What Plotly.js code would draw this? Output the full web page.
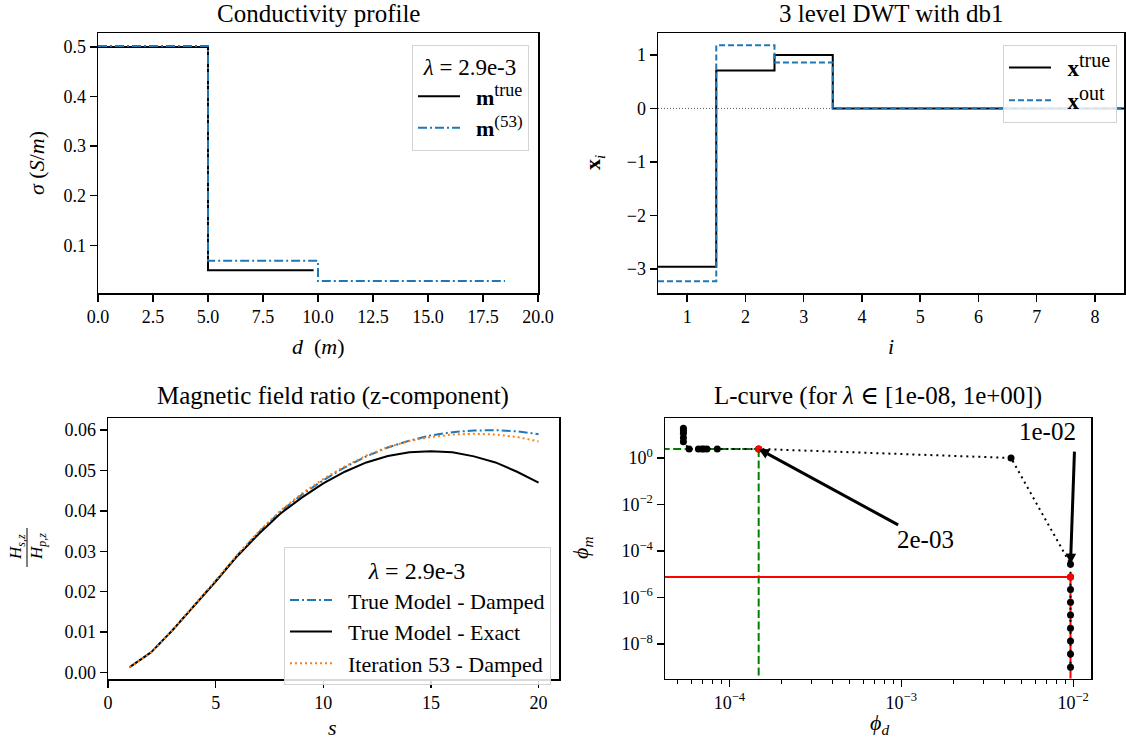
<!DOCTYPE html>
<html>
<head>
<meta charset="utf-8">
<script src="https://cdn.plot.ly/plotly-3.0.1.min.js"></script>
<style>
  html, body { margin: 0; padding: 0; background: #fff; }
  #chart { width: 1126px; height: 740px; }
</style>
</head>
<body>
<div id="chart"></div>
<script>
// ---- Conductivity profile (depth in m, sigma in S/m), drawn as steps ----
const depthTrue = [0, 5, 9.8];
const sigmaTrue = [0.5, 0.05, 0.05];
const depth53 = [0, 5, 10, 18.5];
const sigma53 = [0.502, 0.069, 0.028, 0.028];

// ---- 3 level DWT with db1 (coefficient index and values) ----
const coefIndex = [1, 2, 3, 4, 5, 6, 7, 8];
const xTrue = [-2.96, 0.71, 1.0, 0, 0, 0, 0, 0];
const xOut = [-3.23, 1.18, 0.86, 0.005, 0.005, 0.005, 0.005, 0.005];

// ---- Magnetic field ratio (z-component) vs s ----
const sVals = [1, 2, 3, 4, 5, 6, 7, 8, 9, 10, 11, 12, 13, 14, 15, 16, 17, 18, 19, 20];
const trueDamped = [0.0013, 0.0050, 0.0105, 0.0165, 0.0227, 0.0290, 0.0347, 0.0398, 0.0440, 0.0476,
                    0.0508, 0.0535, 0.0557, 0.0574, 0.0587, 0.0595, 0.0599, 0.0600, 0.0597, 0.0590];
const trueExact = [0.0013, 0.0050, 0.0105, 0.0165, 0.0225, 0.0288, 0.0343, 0.0393, 0.0433, 0.0468,
                   0.0497, 0.0520, 0.0536, 0.0545, 0.0548, 0.0545, 0.0535, 0.0520, 0.0497, 0.0470];
const iter53Damped = [0.0013, 0.0050, 0.0105, 0.0166, 0.0228, 0.0291, 0.0349, 0.0400, 0.0443, 0.0479,
                      0.0510, 0.0537, 0.0558, 0.0573, 0.0583, 0.0589, 0.0591, 0.0589, 0.0583, 0.0572];

// ---- L-curve points (phi_d, phi_m), ordered by lambda ----
const phiD = [5.4e-5, 5.4e-5, 5.4e-5, 5.4e-5, 5.4e-5, 5.83e-5, 6.6e-5, 6.9e-5, 7.1e-5, 7.4e-5, 8.5e-5,
              1.48e-4, 4.35e-3, 9.65e-3, 9.65e-3, 9.65e-3, 9.65e-3, 9.65e-3, 9.65e-3, 9.65e-3, 9.65e-3, 9.65e-3];
const phiM = [19, 15, 11.5, 7.5, 5.0, 2.45, 2.45, 2.45, 2.45, 2.45, 2.45,
              2.45, 1.0, 2.7e-5, 7.5e-6, 2.2e-6, 6.2e-7, 1.74e-7, 4.7e-8, 1.32e-8, 3.7e-9, 9.8e-10];
// highlighted points: green guides and red guides
const selGreen = {d: 1.48e-4, m: 2.45, label: '2e-03'};
const selRed = {d: 9.65e-3, m: 7.5e-6};
const arrowPoint = {d: 9.65e-3, m: 2.7e-5, label: '1e-02'};
const logTicks = [1e-8, 1e-6, 1e-4, 1e-2, 1];
const logTickText = ['10<sup>−8</sup>', '10<sup>−6</sup>', '10<sup>−4</sup>', '10<sup>−2</sup>', '10<sup>0</sup>'];
const dTicks = [1e-4, 1e-3, 1e-2];
const dTickText = ['10<sup>−4</sup>', '10<sup>−3</sup>', '10<sup>−2</sup>'];

const F = '"Liberation Serif", "DejaVu Serif", serif';
const W = 1126, H = 740;
const BLUE = '#1f77b4', ORANGE = '#ff7f0e', GREEN = '#008000', RED = '#ff0000';
const px = v => v / W;
const py = v => 1 - v / H;
const GAP = '&nbsp;&nbsp;';  // space between legend symbol and label
// bold symbol with a roomy superscript, as used in the legends
const supLabel = (sym, sup, size) => GAP + '<b>' + sym + '</b><sup><span style="font-size:' + size + 'px">' + sup + '</span></sup>';

// step edges for the coefficient plot
const coefEdges = coefIndex.map(i => i - 0.5).concat([coefIndex[coefIndex.length - 1] + 0.5]);
const withLast = a => a.concat([a[a.length - 1]]);

function axis(extra) {
  return Object.assign({
    showline: true, mirror: true, linecolor: 'black', linewidth: 1.5,
    ticks: 'outside', ticklen: 7, tickwidth: 1.3, tickcolor: 'black',
    showgrid: false, zeroline: false,
    tickfont: {family: F, size: 18, color: 'black'}
  }, extra);
}

const traces = [
  // conductivity profile
  {x: depthTrue, y: sigmaTrue, xaxis: 'x', yaxis: 'y', mode: 'lines', line: {shape: 'hv', color: 'black', width: 2},
   name: supLabel('m', 'true', 18), legend: 'legend'},
  {x: depth53, y: sigma53, xaxis: 'x', yaxis: 'y', mode: 'lines', line: {shape: 'hv', color: BLUE, width: 2, dash: '9px,3px,2px,3px'},
   name: supLabel('m', '(53)', 17), legend: 'legend'},
  // DWT coefficients
  {x: coefEdges, y: withLast(xTrue), xaxis: 'x2', yaxis: 'y2', mode: 'lines', line: {shape: 'hv', color: 'black', width: 2},
   name: supLabel('x', 'true', 20), legend: 'legend2'},
  {x: coefEdges, y: withLast(xOut), xaxis: 'x2', yaxis: 'y2', mode: 'lines', line: {shape: 'hv', color: BLUE, width: 2, dash: '6px,3px'},
   name: supLabel('x', 'out', 20), legend: 'legend2'},
  // field ratio
  {x: sVals, y: trueDamped, xaxis: 'x3', yaxis: 'y3', mode: 'lines', line: {color: BLUE, width: 2, dash: '9px,3px,2px,3px'},
   name: GAP + 'True Model - Damped', legend: 'legend3'},
  {x: sVals, y: trueExact, xaxis: 'x3', yaxis: 'y3', mode: 'lines', line: {color: 'black', width: 2},
   name: GAP + 'True Model - Exact', legend: 'legend3'},
  {x: sVals, y: iter53Damped, xaxis: 'x3', yaxis: 'y3', mode: 'lines', line: {color: ORANGE, width: 2, dash: '2px,3px'},
   name: GAP + 'Iteration 53 - Damped', legend: 'legend3'},
  // L-curve guide lines (extend past the axes and get clipped)
  {x: [1e-6, selGreen.d], y: [selGreen.m, selGreen.m], xaxis: 'x4', yaxis: 'y4', mode: 'lines',
   line: {color: GREEN, width: 2, dash: '8px,3.5px'}, showlegend: false},
  {x: [selGreen.d, selGreen.d], y: [selGreen.m, 1e-12], xaxis: 'x4', yaxis: 'y4', mode: 'lines',
   line: {color: GREEN, width: 2, dash: '8px,3.5px'}, showlegend: false},
  {x: [1e-6, selRed.d], y: [selRed.m, selRed.m], xaxis: 'x4', yaxis: 'y4', mode: 'lines',
   line: {color: RED, width: 2}, showlegend: false},
  {x: [selRed.d, selRed.d], y: [selRed.m, 1e-12], xaxis: 'x4', yaxis: 'y4', mode: 'lines',
   line: {color: RED, width: 2}, showlegend: false},
  // L-curve
  {x: phiD, y: phiM, xaxis: 'x4', yaxis: 'y4', mode: 'lines+markers',
   line: {color: 'black', width: 2, dash: '2px,4px'}, marker: {color: 'black', size: 7}, showlegend: false},
  {x: [selGreen.d, selRed.d], y: [selGreen.m, selRed.m], xaxis: 'x4', yaxis: 'y4', mode: 'markers',
   marker: {color: RED, size: 7}, showlegend: false}
];

function ann(text, x, y, size, extra) {
  return Object.assign({text: text, x: px(x), y: py(y), xref: 'paper', yref: 'paper',
    showarrow: false, xanchor: 'center', yanchor: 'middle', font: {family: F, size: size, color: 'black'}}, extra || {});
}

const annotations = [
  // subplot titles
  ann('Conductivity profile', 318, 13, 25),
  ann('3 level DWT with db1', 891, 13, 25),
  ann('Magnetic field ratio (z-component)', 333, 396, 25),
  ann('L-curve (for <i>λ</i> ∈ [1e-08, 1e+00])', 878, 396, 25),
  // axis labels
  ann('<i>d</i>&nbsp;&nbsp;(<i>m</i>)', 318, 346, 22),
  ann('<i>σ</i> (<i>S</i>/<i>m</i>)', 37, 163, 22, {textangle: -90}),
  ann('<i>i</i>', 891, 346, 22),
  ann('<b>x</b><sub><i>i</i></sub>', 594, 163, 22, {textangle: -90}),
  ann('<i>s</i>', 333, 727, 22),
  ann('<i>H</i><sub><i>s,z</i></sub>', 17, 547, 17, {textangle: -90}),
  ann('<i>H</i><sub><i>p,z</i></sub>', 38, 547, 17, {textangle: -90}),
  ann('<i>ϕ</i><sub><i>d</i></sub>', 879, 724, 22),
  ann('<i>ϕ</i><sub><i>m</i></sub>', 582, 548, 22, {textangle: -90}),
  // L-curve labels
  {text: selGreen.label, x: Math.log10(selGreen.d), y: Math.log10(selGreen.m), xref: 'x4', yref: 'y4',
   showarrow: true, ax: 167, ay: 91, arrowcolor: 'black', arrowwidth: 3, arrowhead: 2, arrowsize: 0.7,
   font: {family: F, size: 25, color: 'black'}},
  ann(arrowPoint.label, 1047, 431, 25),
  {text: '', x: Math.log10(arrowPoint.d), y: Math.log10(arrowPoint.m), xref: 'x4', yref: 'y4',
   showarrow: true, ax: 4, ay: -114, arrowcolor: 'black', arrowwidth: 3, arrowhead: 2, arrowsize: 0.7}
];

const shapes = [
  // fraction bar of the field-ratio label
  {type: 'line', xref: 'paper', yref: 'paper', x0: px(27), x1: px(27), y0: py(528), y1: py(567),
   line: {color: 'black', width: 1}},
  // zero reference in the coefficient plot
  {type: 'line', xref: 'x2 domain', yref: 'y2', x0: 0, x1: 1, y0: 0, y1: 0,
   line: {color: '#555', width: 1, dash: '1px,2px'}, layer: 'below'}
];

const legendBase = {
  bgcolor: 'rgba(255,255,255,0.85)', bordercolor: '#d4d4d4', borderwidth: 1,
  xanchor: 'right', yanchor: 'top', font: {family: F, size: 23, color: 'black'},
  tracegroupgap: 0, itemwidth: 42
};

const minorD = [];
[1e-5, 1e-4, 1e-3].forEach(dec => { for (let k = 2; k <= 9; k++) minorD.push(k * dec); });

const layout = {
  width: W, height: H,
  margin: {l: 0, r: 0, t: 0, b: 0},
  paper_bgcolor: 'white', plot_bgcolor: 'white',
  font: {family: F, color: 'black'},
  showlegend: true,
  xaxis: axis({domain: [px(98), px(538)], range: [0, 20], tickvals: [0, 2.5, 5, 7.5, 10, 12.5, 15, 17.5, 20],
               tickformat: '.1f', anchor: 'y'}),
  yaxis: axis({domain: [py(293), py(33)], range: [0.004, 0.528], tickvals: [0.1, 0.2, 0.3, 0.4, 0.5],
               tickformat: '.1f', anchor: 'x'}),
  xaxis2: axis({domain: [px(658), px(1124)], range: [0.5, 8.5], tickvals: coefIndex, anchor: 'y2'}),
  yaxis2: axis({domain: [py(293), py(33)], range: [-3.45, 1.41], tickvals: [-3, -2, -1, 0, 1], anchor: 'x2'}),
  xaxis3: axis({domain: [px(108), px(559)], range: [-0.001, 20.95], tickvals: [0, 5, 10, 15, 20], anchor: 'y3'}),
  yaxis3: axis({domain: [py(679), py(418)], range: [-0.0016, 0.063], tickvals: [0, 0.01, 0.02, 0.03, 0.04, 0.05, 0.06],
                tickformat: '.2f', anchor: 'x3'}),
  xaxis4: axis({domain: [px(665), px(1091)], type: 'log', range: [-4.3747, -1.8962], tickvals: dTicks, ticktext: dTickText,
                anchor: 'y4', minor: {tickvals: minorD, ticks: 'outside', ticklen: 4, tickwidth: 1, tickcolor: 'black'}}),
  yaxis4: axis({domain: [py(678.5), py(418)], type: 'log', range: [-9.49, 1.72], tickvals: logTicks, ticktext: logTickText,
                anchor: 'x4'}),
  legend: Object.assign({}, legendBase, {x: px(529), y: py(44.5), font: {family: F, size: 22, color: 'black'},
    title: {text: '<i>λ</i> = 2.9e-3', side: 'top center', font: {family: F, size: 23, color: 'black'}}}),
  legend2: Object.assign({}, legendBase, {x: px(1117), y: py(45)}),
  legend3: Object.assign({}, legendBase, {x: px(551), y: py(547), font: {family: F, size: 22, color: 'black'},
    title: {text: '<i>λ</i> = 2.9e-3', side: 'top center', font: {family: F, size: 24, color: 'black'}}}),
  annotations: annotations,
  shapes: shapes
};

Plotly.newPlot('chart', traces, layout, {displayModeBar: false, staticPlot: true});
</script>
</body>
</html>
